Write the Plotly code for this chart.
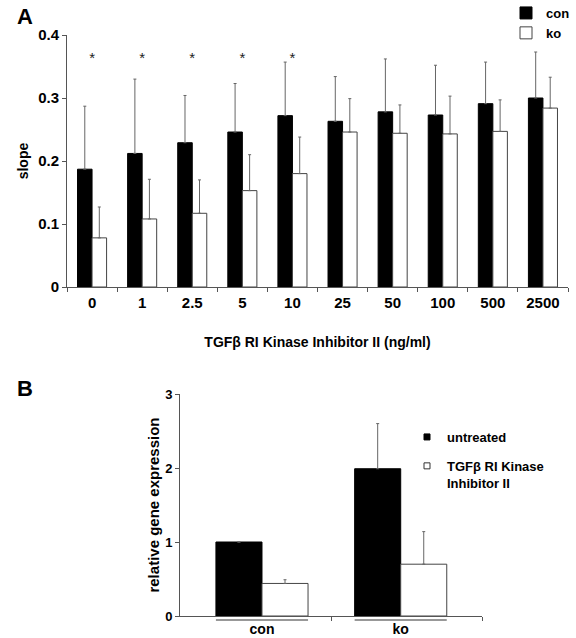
import plotly.graph_objects as go

# ---------- Panel A data ----------
doses = ["0", "1", "2.5", "5", "10", "25", "50", "100", "500", "2500"]
con_slope = [0.187, 0.212, 0.229, 0.246, 0.272, 0.263, 0.278, 0.273, 0.291, 0.300]
con_upper = [0.287, 0.330, 0.304, 0.323, 0.357, 0.334, 0.362, 0.352, 0.357, 0.373]
ko_slope = [0.078, 0.108, 0.117, 0.153, 0.180, 0.246, 0.244, 0.243, 0.247, 0.284]
ko_upper = [0.127, 0.171, 0.170, 0.210, 0.238, 0.299, 0.289, 0.303, 0.297, 0.333]
significant = [True, True, True, True, True, False, False, False, False, False]
star_level = 0.362
a_yticks = [0, 0.1, 0.2, 0.3, 0.4]

# ---------- Panel B data ----------
genotypes = ["con", "ko"]
untreated = [1.0, 1.99]
untreated_upper = [1.0, 2.60]
treated = [0.44, 0.70]
treated_upper = [0.49, 1.14]
b_yticks = [0, 1, 2, 3]

FONT = "Liberation Sans, Arial, sans-serif"
AXC = "#555555"
ERRC = "#666666"

wA = 0.29
wB = 0.332

fig = go.Figure()

def err(vals, ups):
    return dict(type="data", symmetric=False,
                array=[u - v for u, v in zip(ups, vals)],
                arrayminus=[0] * len(vals),
                color=ERRC, thickness=1, width=1.5)

fig.add_trace(go.Bar(x=doses, y=con_slope, name="con", width=wA, offset=-wA,
                     marker=dict(color="black", line=dict(color="black", width=1)),
                     error_y=err(con_slope, con_upper), xaxis="x", yaxis="y",
                     legend="legend"))
fig.add_trace(go.Bar(x=doses, y=ko_slope, name="ko", width=wA, offset=0,
                     marker=dict(color="white", line=dict(color="#444444", width=1)),
                     error_y=err(ko_slope, ko_upper), xaxis="x", yaxis="y",
                     legend="legend"))
fig.add_trace(go.Scatter(x=[d for d, s in zip(doses, significant) if s],
                         y=[star_level] * sum(significant),
                         mode="text", text=["*"] * sum(significant),
                         textfont=dict(family=FONT, size=15, color="#222222"),
                         showlegend=False, hoverinfo="skip", xaxis="x", yaxis="y"))

# Panel B bars
bx = list(range(len(genotypes)))
fig.add_trace(go.Bar(x=bx, y=untreated, width=wB, offset=-wB, showlegend=False,
                     marker=dict(color="black", line=dict(color="black", width=1)),
                     error_y=err(untreated, untreated_upper), xaxis="x2", yaxis="y2"))
fig.add_trace(go.Bar(x=bx, y=treated, width=wB, offset=0, showlegend=False,
                     marker=dict(color="white", line=dict(color="#444444", width=1)),
                     error_y=err(treated, treated_upper), xaxis="x2", yaxis="y2"))
# legend entries for B
fig.add_trace(go.Scatter(x=[None], y=[None], mode="markers", name="untreated",
                         marker=dict(symbol="square", size=6, color="black",
                                     line=dict(color="black", width=1)),
                         xaxis="x2", yaxis="y2", legend="legend2", legendgroup="u"))
fig.add_trace(go.Scatter(x=[None], y=[None], mode="markers",
                         name="TGFβ RI Kinase<br>Inhibitor II",
                         marker=dict(symbol="square", size=6, color="white",
                                     line=dict(color="#333333", width=1)),
                         xaxis="x2", yaxis="y2", legend="legend2", legendgroup="t"))

W, H = 576, 638
def px(x): return x / W
def py(y): return 1 - y / H

tickfont = dict(family=FONT, size=15, color="black", weight="bold")

fig.update_layout(
    width=W, height=H, margin=dict(l=0, r=0, t=0, b=0, autoexpand=False),
    paper_bgcolor="white", plot_bgcolor="white",
    barmode="overlay",
    font=dict(family=FONT, color="black"),
    xaxis=dict(domain=[px(67), px(568)], type="category", anchor="y", automargin=False,
               tickson="boundaries", ticks="outside", ticklen=4, tickcolor=AXC,
               showline=True, linecolor=AXC, linewidth=1, showgrid=False,
               tickfont=tickfont, ticklabelstandoff=2,
               title=dict(text="TGFβ RI Kinase Inhibitor II (ng/ml)",
                          font=dict(family=FONT, size=14, weight="bold"), standoff=27)),
    yaxis=dict(domain=[py(287), py(35)], range=[0, 0.4], anchor="x", automargin=False,
               tickvals=a_yticks, ticktext=[("%g" % v) for v in a_yticks],
               ticks="outside", ticklen=4, tickcolor=AXC,
               showline=True, linecolor=AXC, linewidth=1, showgrid=False, zeroline=False,
               tickfont=tickfont,
               title=dict(text="slope", font=dict(family=FONT, size=14, weight="bold"),
                          standoff=6)),
    xaxis2=dict(domain=[px(180), px(482)], range=[-0.591, 1.586], anchor="y2",
                automargin=False,
                tickvals=bx, ticktext=genotypes, ticks="", ticklabelstandoff=0,
                minor=dict(tickvals=[0.5, 1.586], ticks="outside", ticklen=4,
                           tickcolor=AXC),
                showline=True, linecolor=AXC, linewidth=1, showgrid=False, zeroline=False,
                tickfont=dict(family=FONT, size=14, color="black", weight="bold")),
    yaxis2=dict(domain=[py(616), py(394)], range=[0, 3], anchor="x2", automargin=False,
                tickvals=b_yticks, ticks="outside", ticklen=4, tickcolor=AXC,
                showline=True, linecolor=AXC, linewidth=1, showgrid=False, zeroline=False,
                tickfont=dict(family=FONT, size=13, color="black", weight="bold"),
                title=dict(text="relative gene expression",
                           font=dict(family=FONT, size=15, weight="bold"), standoff=1)),
    legend=dict(x=px(506), y=1 + 2 / H, xanchor="left", yanchor="top",
                font=dict(family=FONT, size=13, weight="bold"),
                bgcolor="rgba(0,0,0,0)", tracegroupgap=0),
    legend2=dict(x=px(407), y=py(422), xanchor="left", yanchor="top",
                 font=dict(family=FONT, size=13, weight="bold"),
                 bgcolor="rgba(0,0,0,0)", tracegroupgap=9, valign="top"),
    annotations=[
        dict(text="A", x=px(15), y=py(2), xref="paper", yref="paper",
             xanchor="left", yanchor="top", showarrow=False,
             font=dict(family=FONT, size=22, weight="bold")),
        dict(text="B", x=px(15), y=py(374), xref="paper", yref="paper",
             xanchor="left", yanchor="top", showarrow=False,
             font=dict(family=FONT, size=22, weight="bold")),
    ],
)

# underline beneath each group label in panel B
for i in bx:
    fig.add_shape(type="line", xref="x2", yref="paper",
                  x0=i - wB, x1=i + wB, y0=py(620), y1=py(620),
                  line=dict(color="#333333", width=1))

fig.write_html("out.html", config={"displayModeBar": False},
               post_script="document.body.style.margin='0';")
